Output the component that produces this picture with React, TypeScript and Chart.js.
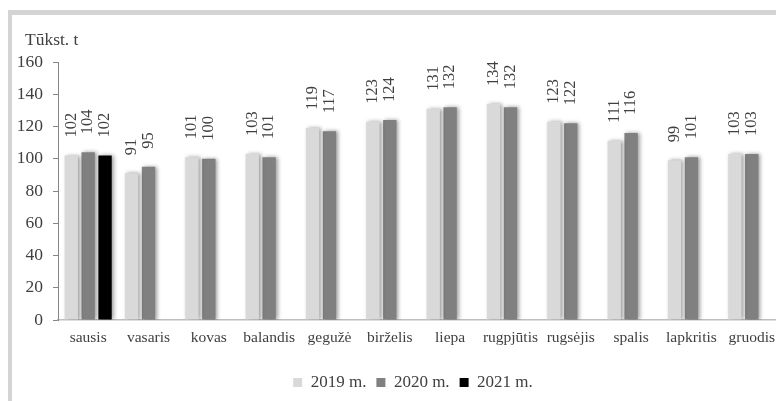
import React, { useEffect, useRef } from "react";
import { Chart, registerables } from "chart.js";

Chart.register(...registerables);

const months = ["sausis", "vasaris", "kovas", "balandis", "gegužė", "birželis", "liepa", "rugpjūtis", "rugsėjis", "spalis", "lapkritis", "gruodis"];
const series2019 = [102, 91, 101, 103, 119, 123, 131, 134, 123, 111, 99, 103];
const series2020 = [104, 95, 100, 101, 117, 124, 132, 132, 122, 116, 101, 103];
const series2021 = [102, null, null, null, null, null, null, null, null, null, null, null];
const seriesNames = ["2019 m.", "2020 m.", "2021 m."];
const seriesColors = ["#d9d9d9", "#808080", "#000000"];
const unitLabel = "Tūkst. t";

const FONT = "'Liberation Serif', 'Times New Roman', serif";
const TEXT = "#404040";

export default function App() {
  const ref = useRef<HTMLCanvasElement | null>(null);

  useEffect(() => {
    if (!ref.current) return;
    const shadowPlugin = {
      id: "barShadow",
      afterLayout(chart: any) {
        if (chart.legend) {
          chart.legend.left += 15;
          chart.legend.right += 15;
        }
      },
      beforeDatasetDraw(chart: any) {
        const ctx = chart.ctx;
        ctx.save();
        ctx.shadowColor = "rgba(0,0,0,0.4)";
        ctx.shadowBlur = 4;
        ctx.shadowOffsetX = 2;
        ctx.shadowOffsetY = 0;
      },
      afterDatasetDraw(chart: any) {
        chart.ctx.restore();
      },
    };
    const labelPlugin = {
      id: "rotLabels",
      afterDraw(chart: any) {
        const ctx = chart.ctx;
        ctx.save();
        ctx.fillStyle = TEXT;
        ctx.font = `16.5px ${FONT}`;
        ctx.textAlign = "left";
        ctx.textBaseline = "middle";
        chart.data.datasets.forEach((ds: any, di: number) => {
          const meta = chart.getDatasetMeta(di);
          meta.data.forEach((bar: any, i: number) => {
            const v = ds.data[i];
            if (v === null || v === undefined) return;
            ctx.save();
            ctx.translate(bar.x, bar.y - 18);
            ctx.rotate(-Math.PI / 2);
            ctx.fillText(String(v), 0, 0);
            ctx.restore();
          });
        });
        const ca = chart.chartArea;
        ctx.font = `17.5px ${FONT}`;
        ctx.textBaseline = "alphabetic";
        ctx.fillText(unitLabel, ca.left - 33, ca.top - 17);
        ctx.restore();
      },
    };

    const chart = new Chart(ref.current, {
      type: "bar",
      data: {
        labels: months,
        datasets: [series2019, series2020, series2021].map((d, i) => ({
          label: seriesNames[i],
          data: d as any,
          backgroundColor: seriesColors[i],
          borderWidth: 0,
          categoryPercentage: 0.84,
          barPercentage: 0.79,
        })),
      },
      options: {
        animation: false,
        responsive: false,
        devicePixelRatio: 1,
        layout: { padding: { top: 48, left: 0, right: 0, bottom: 0 } },
        plugins: {
          tooltip: { enabled: false },
          title: { display: false },
          legend: {
            position: "bottom",
            labels: {
              boxWidth: 9,
              boxHeight: 9,
              padding: 10,
              color: TEXT,
              font: { family: FONT, size: 17 },
            },
          },
        },
        scales: {
          x: {
            grid: { display: false, drawTicks: false },
            border: { color: "#bfbfbf", width: 1.5 },
            ticks: { color: TEXT, font: { family: FONT, size: 15.5 }, padding: 9, maxRotation: 0, autoSkip: false },
            afterFit(scale: any) {
              scale.height = 44;
            },
          },
          y: {
            min: 0,
            max: 160,
            ticks: { stepSize: 20, color: TEXT, font: { family: FONT, size: 17.5 }, padding: 10 },
            grid: { drawOnChartArea: false, drawTicks: true, tickLength: 5, color: "#868686" },
            border: { color: "#868686" },
            afterFit(scale: any) {
              scale.width = 46;
            },
          },
        },
      },
      plugins: [shadowPlugin, labelPlugin],
    });
    return () => chart.destroy();
  }, []);

  return (
    <div style={{ position: "relative", width: 776, height: 393 }}>
      <div
        style={{
          position: "absolute",
          left: 0,
          top: 2,
          right: 0,
          bottom: 0,
          borderTop: "5px solid #d4d4d4",
          borderLeft: "4px solid #d4d4d4",
        }}
      />
      <canvas ref={ref} width={772} height={387} style={{ position: "absolute", left: 4, top: 6, width: 772, height: 387 }} />
    </div>
  );
}
